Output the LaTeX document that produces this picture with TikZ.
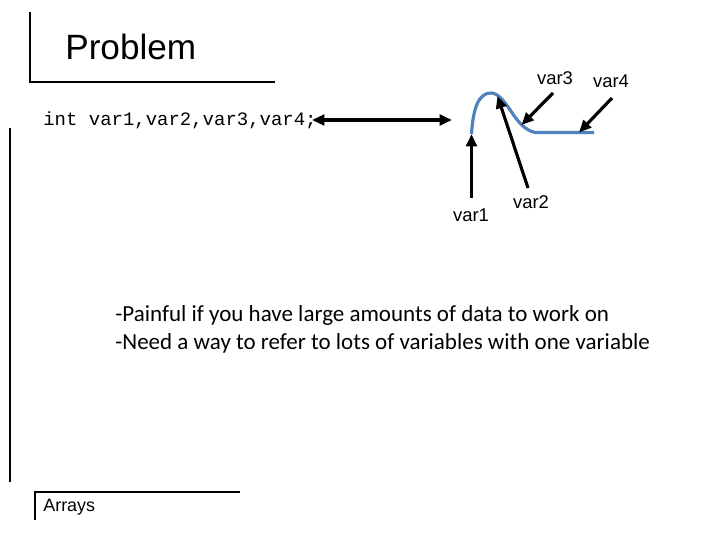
\documentclass[tikz,border=0pt]{standalone}
\usepackage{fontspec}
\setmainfont{Liberation Sans}
\newfontfamily\codefont{Liberation Mono}
\newfontfamily\bodyfont{Carlito}
\usetikzlibrary{arrows.meta}

\tikzset{
    frame/.style={line width=1.1pt},
    ptr/.style={-{Triangle[length=7pt,width=6pt]}, line width=1.8pt},
    lbl/.style={font=\fontsize{10.5}{12}\selectfont, inner sep=0pt},
}

\begin{document}
\begin{tikzpicture}[x=0.02cm, y=-0.02cm]
    \useasboundingbox (0,0) rectangle (720,540);

    % Title frame
    \draw[frame] (30,12) -- (30,82) -- (275,82);
    \node[anchor=base west, inner sep=0pt, font=\fontsize{20}{24}\selectfont] (title) at (65,60) {Problem};

    % Declaration
    \node[anchor=west, inner sep=0pt, font=\codefont\fontsize{10.8}{13}\selectfont] (decl) at (43,120) {int var1,var2,var3,var4;};
    \draw[frame] (10,128) -- (10,482);

    % Double arrow to memory
    \coordinate (dl) at (312,120);
    \coordinate (dr) at (452,120);
    \draw[{Triangle[length=7pt,width=6pt]}-{Triangle[length=7pt,width=6pt]}, line width=1.8pt] (dl) -- (dr);

    % Memory curve
    \coordinate (c1) at (471.5,134);
    \coordinate (c2) at (497.5,96);
    \coordinate (c3) at (521.5,125);
    \coordinate (c4) at (579,132.5);
    \draw[line width=1.8pt, color={rgb,255:red,79;green,129;blue,189}]
        (c1) .. controls (473,110) and (478,92) .. (492,93)
        .. controls (508,96) and (514,128) .. (535,132.5) -- (594,132.5);

    % Labels and pointers
    \node[lbl] (v1) at (471,215) {var1};
    \node[lbl] (v2) at (531,202) {var2};
    \node[lbl] (v3) at (555,78) {var3};
    \node[lbl] (v4) at (611,81) {var4};
    \coordinate (t1) at (471.5,198);
    \coordinate (t2) at (528,188);
    \coordinate (t3) at (553,93);
    \coordinate (t4) at (612,98);
    \draw[ptr] (t1) -- (c1);
    \draw[ptr] (t2) -- (c2);
    \draw[ptr] (t3) -- (c3);
    \draw[ptr] (t4) -- (c4);

    % Remarks
    \node[anchor=north west, inner sep=0pt, align=left, font=\bodyfont\fontsize{13.1}{15.9}\selectfont] (notes) at (115,305)
        {-Painful if you have large amounts of data to work on\\-Need a way to refer to lots of variables with one variable};

    % Footer
    \draw[frame] (35,520) -- (35,492) -- (240,492);
    \node[anchor=west, inner sep=0pt, font=\fontsize{10.2}{12}\selectfont] (foot) at (43,507) {Arrays};
\end{tikzpicture}
\end{document}
